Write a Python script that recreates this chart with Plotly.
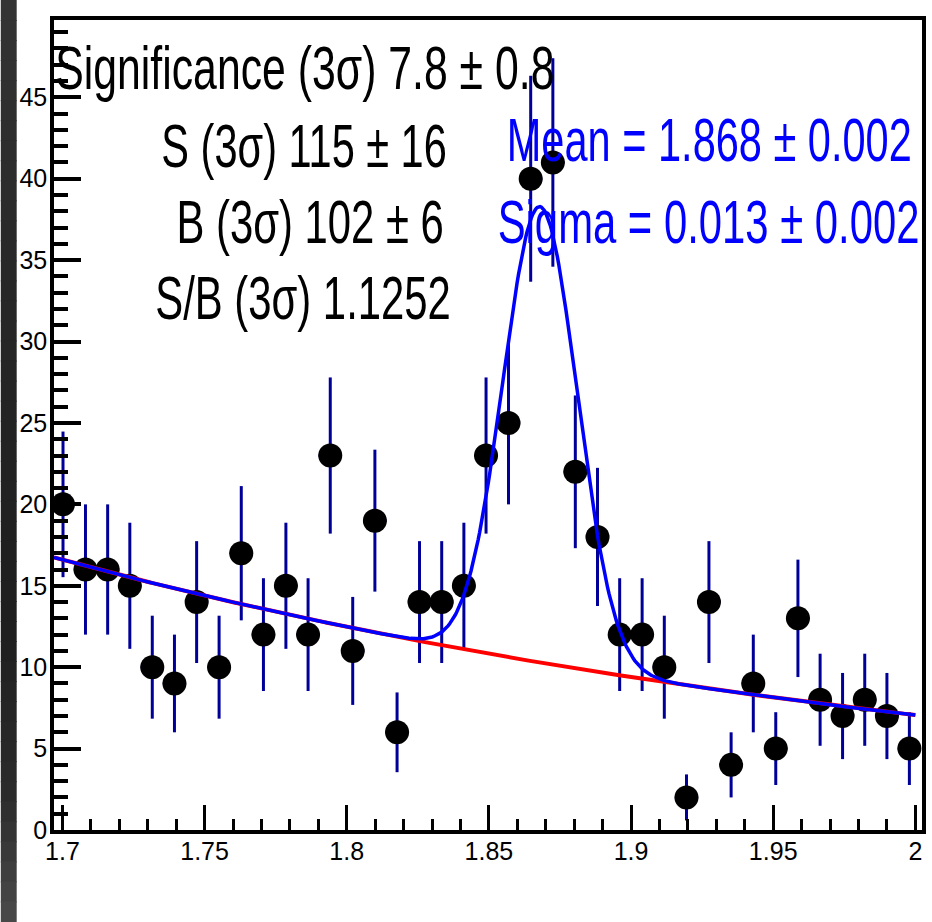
import numpy as np
import plotly.graph_objects as go

# ---------------------------------------------------------------------------
# Invariant-mass spectrum (GeV/c^2): bin centres and entries per bin
# ---------------------------------------------------------------------------
mass = [1.7002, 1.7081, 1.7159, 1.7237, 1.7316, 1.7394, 1.7472, 1.7551,
        1.7629, 1.7707, 1.7786, 1.7864, 1.7942, 1.8021, 1.8099, 1.8177,
        1.8256, 1.8334, 1.8412, 1.8490, 1.8569, 1.8647, 1.8725, 1.8804,
        1.8882, 1.8960, 1.9039, 1.9117, 1.9195, 1.9274, 1.9352, 1.9430,
        1.9509, 1.9587, 1.9665, 1.9744, 1.9822, 1.9900, 1.9979]
counts = [20, 16, 16, 15, 10, 9, 14, 10, 17, 12, 15, 12, 23, 11, 19, 6,
          14, 14, 15, 23, 25, 40, 41, 22, 18, 12, 12, 10, 2, 14, 4, 9,
          5, 13, 8, 7, 8, 7, 5]
half_bin = 0.0041

# Fit: Gaussian signal on an exponential background
MEAN, MEAN_ERR = 1.868, 0.002
SIGMA, SIGMA_ERR = 0.013, 0.002
GAUS_AMP = 28.0
BKG_NORM = 16.6      # background level at 1.7
BKG_SLOPE = 2.85     # exponential slope

# Yield summary in the +-3 sigma window
signif, signif_err = 7.8, 0.8
sig_yield, sig_yield_err = 115, 16
bkg_yield, bkg_yield_err = 102, 6
s_over_b = 1.1252

# Axis ticks
x_ticks = [1.7, 1.75, 1.8, 1.85, 1.9, 1.95, 2.0]
x_tick_labels = ["1.7", "1.75", "1.8", "1.85", "1.9", "1.95", "2"]
y_ticks = [0, 5, 10, 15, 20, 25, 30, 35, 40, 45]
y_tick_labels = [str(v) for v in y_ticks]

X_RANGE = [1.69703, 2.00234]
Y_RANGE = [0, 49.75]

# ---------------------------------------------------------------------------
W, H = 932, 922
ML, MR, MT, MB = 53.5, 6, 19.5, 92
FONT = "Liberation Sans, Arial, Helvetica, sans-serif"
TEXT_SIZE = 62        # summary text size


def bkg(x):
    return BKG_NORM * np.exp(-BKG_SLOPE * (x - 1.7))


def total(x):
    return bkg(x) + GAUS_AMP * np.exp(-0.5 * ((x - MEAN) / SIGMA) ** 2)


def paper_x(px):
    return (px - ML) / (W - ML - MR)


def paper_y(py):
    return (H - MB - py) / (H - MT - MB)


counts_arr = np.array(counts, dtype=float)
xf = np.linspace(X_RANGE[0], 2.0, 600)

fig = go.Figure()

# data points with Poisson errors
fig.add_trace(go.Scatter(
    x=mass, y=counts_arr, mode="markers",
    marker=dict(symbol="circle", size=24, color="black"),
    error_y=dict(type="data", array=np.sqrt(counts_arr), color="#000099",
                 thickness=3, width=0),
    error_x=dict(type="constant", value=half_bin, color="#000099",
                 thickness=3, width=0),
    showlegend=False,
))

# background component
fig.add_trace(go.Scatter(
    x=xf, y=bkg(xf), mode="lines",
    line=dict(color="#ff0000", width=4), showlegend=False,
))

# signal + background
fig.add_trace(go.Scatter(
    x=xf, y=total(xf), mode="lines",
    line=dict(color="#0000ff", width=3.5), showlegend=False,
))

# dark strip along the left edge of the canvas (vertical shading)
stops = [(0, (0x34, 0x34, 0x34)), (300, (0x27, 0x27, 0x27)),
         (620, (0x1e, 0x1e, 0x1e)), (800, (0x2c, 0x2c, 0x2c)),
         (922, (0x4a, 0x4a, 0x4a))]
shapes = []
n_bands = 46
for i in range(n_bands):
    y0 = i * H / n_bands
    y1 = (i + 1) * H / n_bands
    yc = 0.5 * (y0 + y1)
    for (a, ca), (b, cb) in zip(stops[:-1], stops[1:]):
        if a <= yc <= b:
            t = (yc - a) / (b - a)
            c = tuple(int(round(ca[k] + t * (cb[k] - ca[k]))) for k in range(3))
            break
    shapes.append(dict(
        type="rect", xref="paper", yref="paper",
        x0=paper_x(0), x1=paper_x(16), y0=paper_y(y1 + 0.5), y1=paper_y(y0 - 0.5),
        fillcolor="rgb(%d,%d,%d)" % c, line=dict(width=0), layer="below",
    ))

# fit summary text: (text, centre x px, centre y px, horizontal condensing)
black_lines = [
    (f"Significance (3σ) {signif} ± {signif_err}", 306, 67.5, 0.69),
    (f"S (3σ) {sig_yield} ± {sig_yield_err}", 305, 145, 0.67),
    (f"B (3σ) {bkg_yield} ± {bkg_yield_err}", 310.5, 221.5, 0.675),
    (f"S/B (3σ) {s_over_b}", 304, 297.5, 0.675),
]
blue_lines = [
    (f"Mean = {MEAN:.3f} ± {MEAN_ERR:.3f}", 712, 139.5, 0.67),
    (f"Sigma = {SIGMA:.3f} ± {SIGMA_ERR:.3f}", 711, 221.5, 0.675),
]
annotations = []
condense = []
for lines, color in ((black_lines, "black"), (blue_lines, "#0000ff")):
    for txt, px, py, sq in lines:
        annotations.append(dict(text=txt, x=paper_x(px), y=paper_y(py),
                                xref="paper", yref="paper", xanchor="center",
                                yanchor="middle", showarrow=False,
                                font=dict(family=FONT, size=TEXT_SIZE,
                                          color=color)))
        condense.append(sq)

axis_common = dict(
    showline=True, linecolor="black", linewidth=3.5, mirror=True,
    ticks="inside", tickcolor="black", showgrid=False, zeroline=False,
    tickfont=dict(family=FONT, size=25, color="black"),
)

fig.update_layout(
    width=W, height=H,
    margin=dict(l=ML, r=MR, t=MT, b=MB, pad=0),
    paper_bgcolor="white", plot_bgcolor="white",
    shapes=shapes, annotations=annotations, showlegend=False,
    xaxis=dict(range=X_RANGE, tickmode="array", tickvals=x_ticks,
               ticktext=x_tick_labels, ticklen=25, tickwidth=3,
               ticklabelstandoff=-4,
               minor=dict(ticks="inside", dtick=0.01, tick0=1.7, ticklen=11,
                          tickwidth=3, tickcolor="black", showgrid=False),
               **axis_common),
    yaxis=dict(range=Y_RANGE, tickmode="array", tickvals=y_ticks,
               ticktext=y_tick_labels, ticklen=27, tickwidth=4,
               ticklabelstandoff=-2,
               minor=dict(ticks="inside", dtick=1, tick0=0, ticklen=14,
                          tickwidth=4, tickcolor="black", showgrid=False),
               **axis_common),
)

# condense the summary lines horizontally about their own centres
condense_js = """
var gd = document.getElementById('{plot_id}');
var factors = FACTORS;
function condense() {
  gd.querySelectorAll('g.annotation').forEach(function (g, i) {
    var t = g.querySelector('text.annotation-text');
    if (!t) { return; }
    t.style.transformBox = 'fill-box';
    t.style.transformOrigin = 'center';
    t.style.transform = 'scaleX(' + factors[i % factors.length] + ')';
  });
}
condense();
gd.on('plotly_afterplot', condense);
""".replace("FACTORS", str(condense))

fig.write_html("out.html", post_script=condense_js)
